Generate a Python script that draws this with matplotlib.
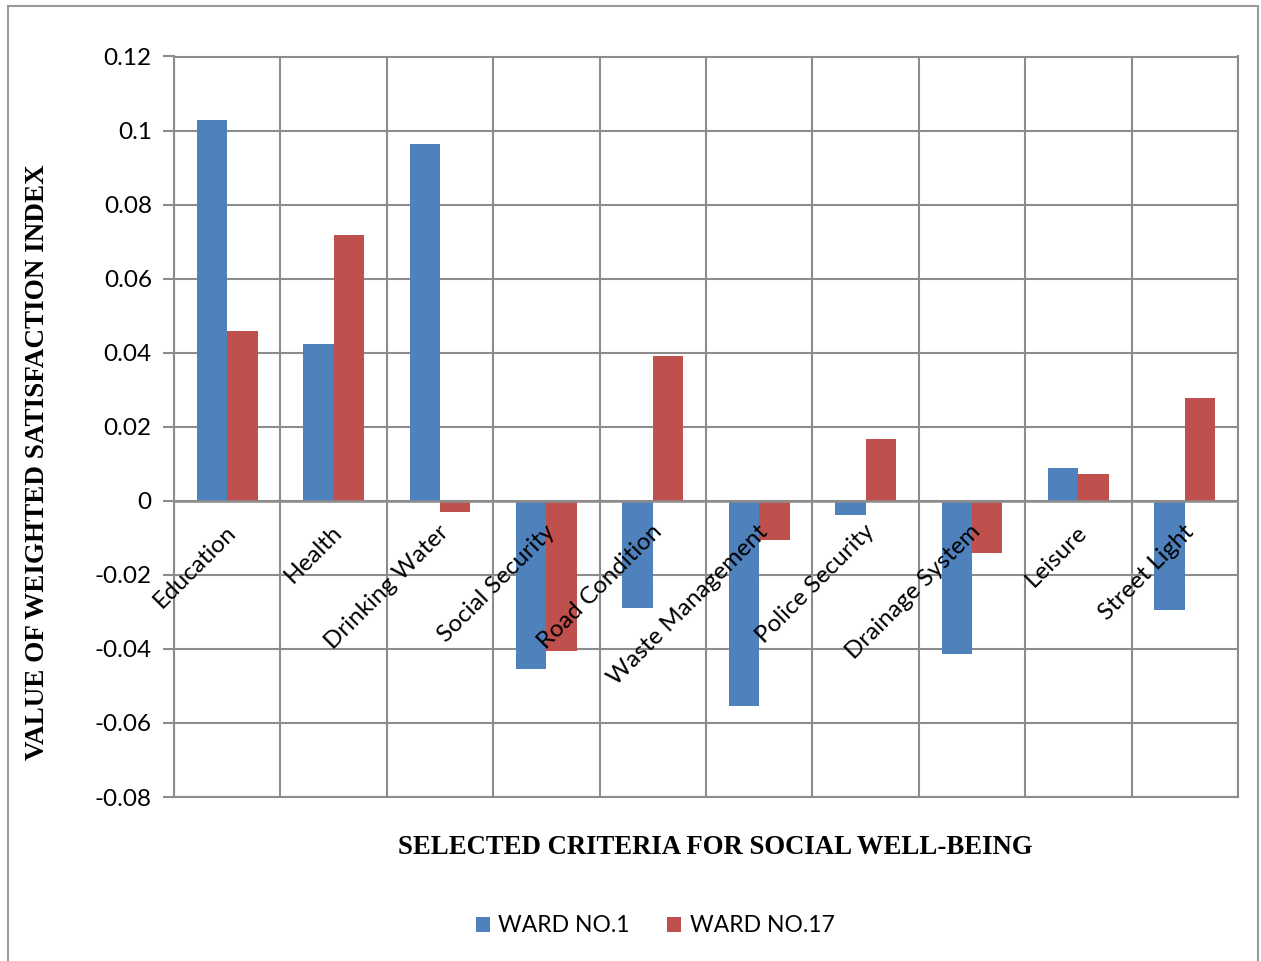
import numpy as np
import matplotlib.pyplot as plt
from matplotlib.patches import Rectangle

# criteria and weighted satisfaction index values
criteria = ["Education", "Health", "Drinking Water", "Social Security", "Road Condition",
            "Waste Management", "Police Security", "Drainage System", "Leisure", "Street Light"]
ward1 = [0.1028, 0.0424, 0.0964, -0.0453, -0.0289, -0.0553, -0.0038, -0.0413, 0.0089, -0.0294]
ward17 = [0.0459, 0.0718, -0.003, -0.0405, 0.0391, -0.0105, 0.0167, -0.014, 0.0073, 0.0278]
yticks = [-0.08, -0.06, -0.04, -0.02, 0, 0.02, 0.04, 0.06, 0.08, 0.1, 0.12]
ytick_labels = ["-0.08", "-0.06", "-0.04", "-0.02", "0", "0.02", "0.04", "0.06", "0.08", "0.1", "0.12"]

blue = "#4F81BD"
red = "#C0504D"
grid = "#8C8C8C"
sans = ["Lato", "DejaVu Sans"]
serif = ["Liberation Serif", "DejaVu Serif"]

fig = plt.figure(figsize=(12.61, 9.61), dpi=100)
ax = fig.add_axes([174 / 1261, 1 - 797 / 961, (1238 - 174) / 1261, (797 - 56.5) / 961])

x = np.arange(len(criteria))
w = 0.285
ax.bar(x - w / 2, ward1, w, color=blue, label="WARD NO.1", zorder=3)
ax.bar(x + w / 2, ward17, w, color=red, label="WARD NO.17", zorder=3)

ax.set_xlim(-0.5, len(criteria) - 0.5)
ax.set_ylim(-0.08, 0.12)
ax.set_yticks(yticks)
ax.set_yticklabels(ytick_labels, fontsize=17.5, family=sans)
ax.set_xticks(np.arange(-0.5, len(criteria), 1.0))
ax.set_xticklabels([])
ax.tick_params(axis="x", length=0)
ax.tick_params(axis="y", length=8, width=1.5, color=grid, pad=8)
ax.grid(True, color=grid, linewidth=1.5, zorder=0)
for s in ax.spines.values():
    s.set_color(grid)
    s.set_linewidth(1.5)
ax.axhline(0, color=grid, linewidth=1.8, zorder=4)

for i, name in enumerate(criteria):
    ax.text(i - 0.02, -0.0055, name, rotation=45, rotation_mode="anchor",
            ha="right", va="top", fontsize=17.5, family=sans, zorder=5)

fig.text(38 / 1261, 1 - 462 / 961, "VALUE OF WEIGHTED SATISFACTION INDEX", rotation=90,
         ha="center", va="center", fontsize=19.5, fontweight="bold", family=serif)
fig.text(715 / 1261, 1 - 847 / 961, "SELECTED CRITERIA FOR SOCIAL WELL-BEING",
         ha="center", va="center", fontsize=19.3, fontweight="bold", family=serif)

fig.legend(loc="center", bbox_to_anchor=(655 / 1261, 1 - 926 / 961), ncol=2, frameon=False,
           prop={"family": sans, "size": 16.5}, handlelength=0.62, handleheight=0.62,
           columnspacing=1.65, handletextpad=0.35)

fig.patches.append(Rectangle((8 / 1261, -0.01), 1250 / 1261, 1 - 6 / 961 + 0.01,
                             transform=fig.transFigure, fill=False, edgecolor="#9A9A9A", linewidth=1.5))

fig.savefig("out.png", dpi=100)
